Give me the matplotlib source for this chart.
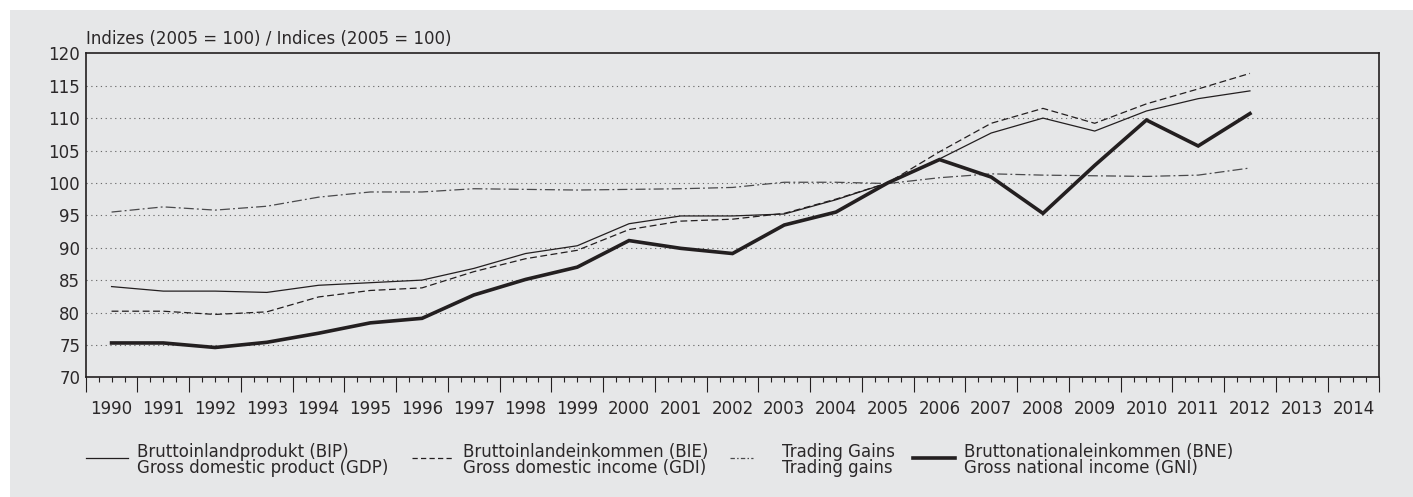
import matplotlib.pyplot as plt
from matplotlib.lines import Line2D
from matplotlib.patches import Rectangle
from matplotlib.ticker import FixedLocator, FuncFormatter

plt.rcParams['font.family'] = ['DejaVu Sans']

years = list(range(1990, 2013))
gdp = [84.0, 83.3, 83.3, 83.1, 84.2, 84.6, 85.0, 86.8, 89.1, 90.3, 93.7, 94.9,
       94.9, 95.2, 97.4, 100.0, 103.7, 107.7, 110.0, 108.0, 111.1, 113.0, 114.2]
gdi = [80.2, 80.2, 79.7, 80.1, 82.4, 83.4, 83.8, 86.3, 88.3, 89.6, 92.8, 94.1,
       94.4, 95.3, 97.5, 100.0, 104.8, 109.2, 111.5, 109.2, 112.2, 114.5, 116.9]
trading = [95.5, 96.3, 95.8, 96.4, 97.8, 98.6, 98.6, 99.1, 99.0, 98.9, 99.0, 99.1,
           99.3, 100.1, 100.1, 99.9, 100.8, 101.4, 101.2, 101.1, 101.0, 101.2, 102.3]
gni = [75.3, 75.3, 74.6, 75.4, 76.8, 78.4, 79.1, 82.7, 85.1, 87.0, 91.1, 89.9,
       89.1, 93.5, 95.5, 100.0, 103.6, 100.9, 95.3, 102.7, 109.7, 105.7, 110.7]

axis_years = list(range(1990, 2015))
y_ticks = list(range(70, 121, 5))

labels_de = ['Bruttoinlandprodukt (BIP)', 'Bruttoinlandeinkommen (BIE)',
             'Trading Gains', 'Bruttonationaleinkommen (BNE)']
labels_en = ['Gross domestic product (GDP)', 'Gross domestic income (GDI)',
             'Trading gains', 'Gross national income (GNI)']

ink = '#231f20'
text_ink = '#2b2829'
panel = '#e6e7e8'
W, H = 1413, 497

fig = plt.figure(figsize=(W / 100, H / 100), dpi=100)
fig.patch.set_facecolor('white')
# grauer Hintergrund
fig.patches.append(Rectangle((10 / W, 0), 1, 1 - 10 / H, transform=fig.transFigure,
                             facecolor=panel, edgecolor='none', zorder=-5))

ax = fig.add_axes([85.7 / W, 1 - 377.3 / H, (1379.3 - 85.7) / W, (377.3 - 53.3) / H])
ax.set_facecolor(panel)

styles = [
    dict(color=ink, lw=0.9, ls='-'),
    dict(color=ink, lw=0.9, ls=(0, (5.5, 2.8))),
    dict(color='#4a4a4c', lw=0.9, ls=(0, (8, 2.5, 1.5, 2.5))),
    dict(color=ink, lw=2.6, ls='-', solid_joinstyle='miter'),
]
# Legendenstriche etwas feiner gestrichelt
handle_ls = ['-', (0, (4.2, 2.6)), (0, (3.5, 1.8, 1.2, 1.8)), '-']

series = [gdp, gdi, trading, gni]
order = [2, 1, 0, 3]
for i in order:
    ax.plot(years, series[i], zorder=3 + i, **styles[i])

ax.set_xlim(axis_years[0] - 0.5, axis_years[-1] + 0.5)
ax.set_ylim(70, 120)

# x-Achse: Jahreszahlen in der Mitte, lange Striche an den Jahresgrenzen
quarters = [y + q for y in axis_years for q in (-0.25, 0.0, 0.25)]
bounds = [y - 0.5 for y in axis_years] + [axis_years[-1] + 0.5]
ax.xaxis.set_major_locator(FixedLocator(quarters))
ax.xaxis.set_major_formatter(FuncFormatter(
    lambda v, p: str(int(round(v))) if abs(v - round(v)) < 1e-6 else ''))
ax.xaxis.set_minor_locator(FixedLocator(bounds))
ax.tick_params(axis='x', which='major', direction='out', length=3.8, width=0.8,
               color=ink, labelsize=12, labelcolor=text_ink, pad=12.8)
ax.tick_params(axis='x', which='minor', direction='out', length=11, width=0.8, color=ink)

ax.set_yticks(y_ticks)
ax.tick_params(axis='y', length=0, labelsize=12, labelcolor=text_ink, pad=4)

for v in y_ticks[1:-1]:
    ax.axhline(v, color='#6a6a6a', lw=0.8, ls=(0, (1.1, 3.2)), zorder=1)

for s in ax.spines.values():
    s.set_color(ink)
    s.set_linewidth(1.2)

fig.text(86 / W, 1 - 43.5 / H, 'Indizes (2005 = 100) / Indices (2005 = 100)',
         fontsize=12, color=text_ink, va='baseline', ha='left')

# Legende unten
handle_x = [(86, 128), (412, 452), (730, 753), (913, 955)]
text_x = [137, 463, 782, 964]
for i in range(4):
    x0, x1 = handle_x[i]
    st = dict(styles[i])
    st['ls'] = handle_ls[i]
    fig.lines.append(Line2D([x0 / W, x1 / W], [1 - 458 / H, 1 - 458 / H],
                            transform=fig.transFigure, **st))
    fig.text(text_x[i] / W, 1 - 457 / H, labels_de[i], fontsize=12, color=text_ink,
             va='baseline', ha='left')
    fig.text(text_x[i] / W, 1 - 473 / H, labels_en[i], fontsize=12, color=text_ink,
             va='baseline', ha='left')

fig.savefig('out.png', dpi=100, facecolor=fig.get_facecolor())
